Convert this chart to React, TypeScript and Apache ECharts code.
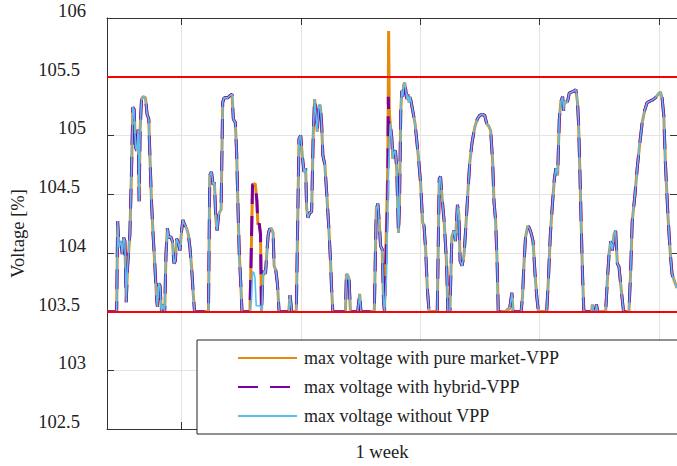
import React, { useEffect, useRef } from "react";
import * as echarts from "echarts";

// time axis unit: sample index over the shown week (grid lines every 120 samples)
const T_MIN = 45;
const T_MAX = 618;
const V_MIN = 102.5;
const V_MAX = 106;
const V_STEP = 0.5;
const UPPER_LIMIT = 105.5;
const LOWER_LIMIT = 103.5;

const seriesNames = [
  "max voltage with pure market-VPP",
  "max voltage with hybrid-VPP",
  "max voltage without VPP",
];
const seriesColors = ["#e8890c", "#7a00a0", "#58c0f0"];

// shared trace (all three scenarios coincide)
const commonSegA: number[][] = [
  [45, 103.5], [54.7, 103.5], [55.7, 104.27], [57, 104.05], [59, 104.1], [60.3, 103.99], [61.7, 104.13],
  [63, 104.1], [64.3, 103.58], [65.7, 103.88], [68, 104.16], [69.7, 104.72], [71, 105.24], [72.3, 105.22],
  [73.7, 104.9], [75, 104.87], [76.3, 105.05], [77.3, 104.44], [78.3, 105.05], [79.7, 105.31], [81.3, 105.33],
  [83.7, 105.32], [85.3, 105.18], [87, 105.14], [88, 104.86], [89.7, 104.44], [91.3, 104.16], [93, 103.91],
  [94.7, 103.63], [95.7, 103.54], [97, 103.74], [98.3, 103.72], [99.7, 103.5], [101.3, 103.56], [103, 103.5],
  [104.3, 103.99], [105.7, 104.21], [107, 104.13], [109, 104.14], [110.7, 104.1], [112.3, 103.91], [113.7, 103.93],
  [115, 104.12], [116.7, 104.09], [118.3, 104.02], [120, 104.19], [121.3, 104.28], [123, 104.24], [125, 104.21],
  [126.7, 104.16], [128.3, 104.05], [130, 103.88], [131.7, 103.65], [133, 103.5], [147, 103.5], [148.3, 104.66],
  [150, 104.69], [151.7, 104.58], [153, 104.6], [154.3, 104.3], [155.7, 104.19], [157.3, 104.33], [159.7, 104.37],
  [161.3, 105.28], [162.7, 105.32], [166.3, 105.32], [168.7, 105.34], [170.7, 105.35], [172, 105.14], [174, 105.11],
  [175.3, 104.86], [176.7, 104.38], [178, 103.99], [179.3, 103.77], [180.7, 103.5], [188.7, 103.5],
];

// first deviation: VPP scenarios raise the voltage
const vppBump: number[][] = [
  [190, 104.0], [191.3, 104.58], [194, 104.59], [195.7, 104.44], [196.7, 104.24], [198, 104.25], [199.3, 104.16],
  [200.3, 103.5],
];
const noVppBump: number[][] = [
  [190.3, 103.6], [191.3, 103.84], [192.7, 103.83], [193.7, 103.79], [195, 103.55], [199, 103.55], [200.7, 103.5],
];

const commonSegB: number[][] = [
  [201.7, 103.8], [203, 103.85], [204.3, 103.82], [205.7, 104.0], [207, 104.15], [208.3, 104.2], [210.3, 104.21],
  [212, 104.17], [213, 103.89], [214.7, 103.85], [216.3, 103.74], [218, 103.5], [227.7, 103.5], [229, 103.64],
  [230.7, 103.5], [235.3, 103.5], [238, 104.97], [239.7, 105.0], [241.3, 104.83], [243, 104.69], [244.7, 104.72],
  [245.7, 104.38], [247, 104.3], [248.7, 104.34], [250.7, 104.35], [252.3, 105.0], [253.7, 105.31], [255, 105.19],
  [256.3, 105.03], [258, 105.25], [259.3, 105.26], [260.7, 105.11], [262, 104.83], [264, 104.75], [266, 104.49],
  [268, 104.21], [269.7, 103.93], [270.7, 103.71], [272, 103.5], [284.7, 103.5], [285.7, 103.82], [287, 103.81],
  [288.3, 103.78], [289.7, 103.5], [297, 103.5], [299, 103.65], [300.3, 103.5], [313.7, 103.5], [315.7, 104.37],
  [317.3, 104.42], [318.7, 104.26], [320, 104.06], [321.7, 104.03], [323, 103.58], [324, 103.5],
];

// second deviation: the voltage spike
const marketSpike: number[][] = [[327.4, 104.8], [328.1, 105.89], [328.8, 105.2]];
const hybridSpike: number[][] = [[327.2, 104.5], [327.8, 105.33], [328.6, 105.0]];
const noVppSpike: number[][] = [[326, 103.8], [328, 104.7]];

const commonSegC: number[][] = [
  [329.7, 105.1], [331.3, 104.98], [332.3, 104.8], [333.7, 104.86], [335, 104.87], [336.3, 104.7], [338, 104.17],
  [339, 104.4], [340.3, 105.2], [341.3, 105.38], [342.3, 105.33], [343.3, 105.43], [344.3, 105.45], [345.3, 105.39],
  [346.3, 105.31], [347.3, 105.35], [348.7, 105.28], [349.7, 105.33], [351.3, 105.26], [354.7, 105.1], [358, 104.82],
  [360.3, 104.59], [362.3, 104.26], [363.7, 104.23], [365.3, 104.03], [367, 103.7], [368.7, 103.5], [377, 103.5],
  [379, 104.63], [380.3, 104.65], [381.7, 104.48], [384, 104.26], [386.3, 103.92], [387.7, 103.5], [389.7, 103.5],
  [391.7, 104.14], [394, 104.19], [395.3, 104.1], [397.3, 104.41], [398.7, 104.33], [400, 103.93], [402, 103.89],
  [404, 103.99], [406.3, 104.3], [408, 104.55], [409.7, 104.77], [412, 104.94], [414.7, 105.07], [417.3, 105.14],
  [419.7, 105.17], [422.3, 105.18], [424.7, 105.17], [426.7, 105.1], [428.7, 105.08], [430.7, 105.04], [432.7, 104.77],
  [434, 104.44], [435.7, 104.27], [437.3, 103.88], [438.3, 103.5], [446.3, 103.5], [447.3, 103.52], [449.7, 103.52],
  [452, 103.66], [453.3, 103.5], [461.3, 103.5], [462.7, 103.63], [464, 103.88], [465.7, 104.13], [468, 104.23],
  [469.7, 104.21], [471.3, 104.17], [473.3, 104.1], [475.3, 103.82], [477, 103.63], [478.7, 103.5], [487, 103.5],
  [488.7, 103.77], [490.7, 104.16], [493, 104.44], [494.7, 104.63], [496.3, 104.72], [498, 104.66], [499.7, 105.14],
  [501.3, 105.29], [503, 105.33], [504, 105.21], [505, 105.29], [506.3, 105.28], [508, 105.29], [509.7, 105.36],
  [512.3, 105.37], [514.7, 105.38], [516.3, 105.39], [518, 105.28], [519, 105.11], [520.3, 104.72], [521.7, 104.24],
  [523, 103.82], [524.3, 103.51], [526.3, 103.5], [532, 103.5], [533, 103.56], [534.3, 103.5], [536, 103.5],
  [537, 103.56], [538.3, 103.5], [546.3, 103.5], [548, 103.77], [549.7, 103.99], [551.3, 104.1], [553, 104.02],
  [554.7, 104.16], [556.3, 104.19], [558, 103.91], [559.7, 103.88], [561.3, 103.74], [563, 103.6], [564.3, 103.5],
  [569.7, 103.5], [571.3, 103.82], [573, 104.27], [575.7, 104.49], [578, 104.72], [580.3, 104.91], [583, 105.11],
  [585.7, 105.22], [588, 105.28], [590.3, 105.29], [593, 105.3], [596.3, 105.32], [599, 105.35], [601.3, 105.37],
  [603, 105.32], [604.7, 105.17], [606.3, 104.77], [609, 104.3], [611.3, 103.99], [613, 103.82], [615, 103.77],
  [618, 103.7],
];

const marketData = [...commonSegA, ...vppBump, ...commonSegB, ...marketSpike, ...commonSegC];
const hybridData = [...commonSegA, ...vppBump, ...commonSegB, ...hybridSpike, ...commonSegC];
const noVppData = [...commonSegA, ...noVppBump, ...commonSegB, ...noVppSpike, ...commonSegC];

const FONT = "'Liberation Serif', 'Times New Roman', serif";
const TEXT = "#222";
const AXIS = "#333";
const GRIDC = "#e4e4e4";

export default function App() {
  const ref = useRef<HTMLDivElement>(null);
  useEffect(() => {
    if (!ref.current) return;
    const chart = echarts.init(ref.current, null, { renderer: "svg" });
    const xCommon = {
      type: "value" as const,
      min: T_MIN,
      max: T_MAX,
      minInterval: 120,
      maxInterval: 120,
    };
    const yCommon = {
      type: "value" as const,
      min: V_MIN,
      max: V_MAX,
      interval: V_STEP,
    };
    chart.setOption({
      animation: false,
      backgroundColor: "#ffffff",
      grid: { left: 107, top: 18, width: 573, height: 416, containLabel: false },
      legend: {
        orient: "vertical",
        left: 197,
        top: 340,
        padding: [9, 140, 9, 40],
        itemWidth: 59,
        itemHeight: 14,
        itemGap: 11,
        selectedMode: false,
        backgroundColor: "#ffffff",
        borderColor: "#222",
        borderWidth: 1,
        borderRadius: 0,
        itemStyle: { opacity: 0 },
        textStyle: { fontFamily: FONT, fontSize: 18, color: TEXT, lineHeight: 18, padding: [0, 0, 0, 2] },
        data: seriesNames,
        z: 10,
      },
      xAxis: [
        {
          ...xCommon,
          position: "bottom",
          name: "1 week",
          nameLocation: "middle",
          nameGap: 13,
          nameTextStyle: { fontFamily: FONT, fontSize: 18.6, color: TEXT, padding: [0, 20, 0, 0] },
          axisLine: { show: true, onZero: false, lineStyle: { color: AXIS, width: 1 } },
          axisTick: { show: true, inside: true, length: 7, lineStyle: { color: AXIS } },
          axisLabel: { show: false },
          splitLine: { show: true, lineStyle: { color: GRIDC, width: 1 } },
        },
        {
          ...xCommon,
          position: "top",
          axisLine: { show: true, onZero: false, lineStyle: { color: AXIS, width: 1 } },
          axisTick: { show: true, inside: true, length: 7, lineStyle: { color: AXIS } },
          axisLabel: { show: false },
          splitLine: { show: false },
        },
      ],
      yAxis: [
        {
          ...yCommon,
          position: "left",
          name: "Voltage [%]",
          nameLocation: "middle",
          nameRotate: 90,
          nameGap: 66,
          nameTextStyle: { fontFamily: FONT, fontSize: 18.6, color: TEXT, padding: [0, 20, 0, 0] },
          axisLine: { show: true, onZero: false, lineStyle: { color: AXIS, width: 1 } },
          axisTick: { show: true, inside: true, length: 7, lineStyle: { color: AXIS } },
          axisLabel: {
            show: true,
            margin: 21,
            formatter: (v: number) => (Number.isInteger(v) ? `{i|${v}}` : `{h|${v}}`),
            rich: {
              i: { fontFamily: FONT, fontSize: 18.6, color: TEXT, padding: [0, 0, 15, 0] },
              h: { fontFamily: FONT, fontSize: 18.6, color: TEXT, padding: [0, 6, 15, 0] },
            },
          },
          splitLine: { show: true, lineStyle: { color: GRIDC, width: 1 } },
        },
        {
          ...yCommon,
          position: "right",
          axisLine: { show: true, onZero: false, lineStyle: { color: AXIS, width: 1 } },
          axisTick: { show: true, inside: true, length: 7, lineStyle: { color: AXIS } },
          axisLabel: { show: false },
          splitLine: { show: false },
        },
      ],
      series: [
        {
          name: "limits",
          type: "line",
          data: [],
          silent: true,
          markLine: {
            silent: true,
            symbol: "none",
            label: { show: false },
            lineStyle: { color: "#ff0000", width: 2, type: "solid" },
            data: [{ yAxis: UPPER_LIMIT }, { yAxis: LOWER_LIMIT }],
          },
        },
        {
          name: seriesNames[0],
          type: "line",
          data: marketData,
          symbol: "none",
          showSymbol: false,
          color: seriesColors[0],
          lineStyle: { color: seriesColors[0], width: 3 },
        },
        {
          name: seriesNames[1],
          type: "line",
          data: hybridData,
          symbol: "none",
          showSymbol: false,
          color: seriesColors[1],
          lineStyle: { color: seriesColors[1], width: 3, type: [20, 12] },
        },
        {
          name: seriesNames[2],
          type: "line",
          data: noVppData,
          symbol: "none",
          showSymbol: false,
          color: seriesColors[2],
          lineStyle: { color: seriesColors[2], width: 1.6 },
        },
      ],
    });
    return () => chart.dispose();
  }, []);
  return (
    <div
      ref={ref}
      style={{ position: "fixed", left: 0, top: 0, width: 677, height: 466, background: "#fff" }}
    />
  );
}
